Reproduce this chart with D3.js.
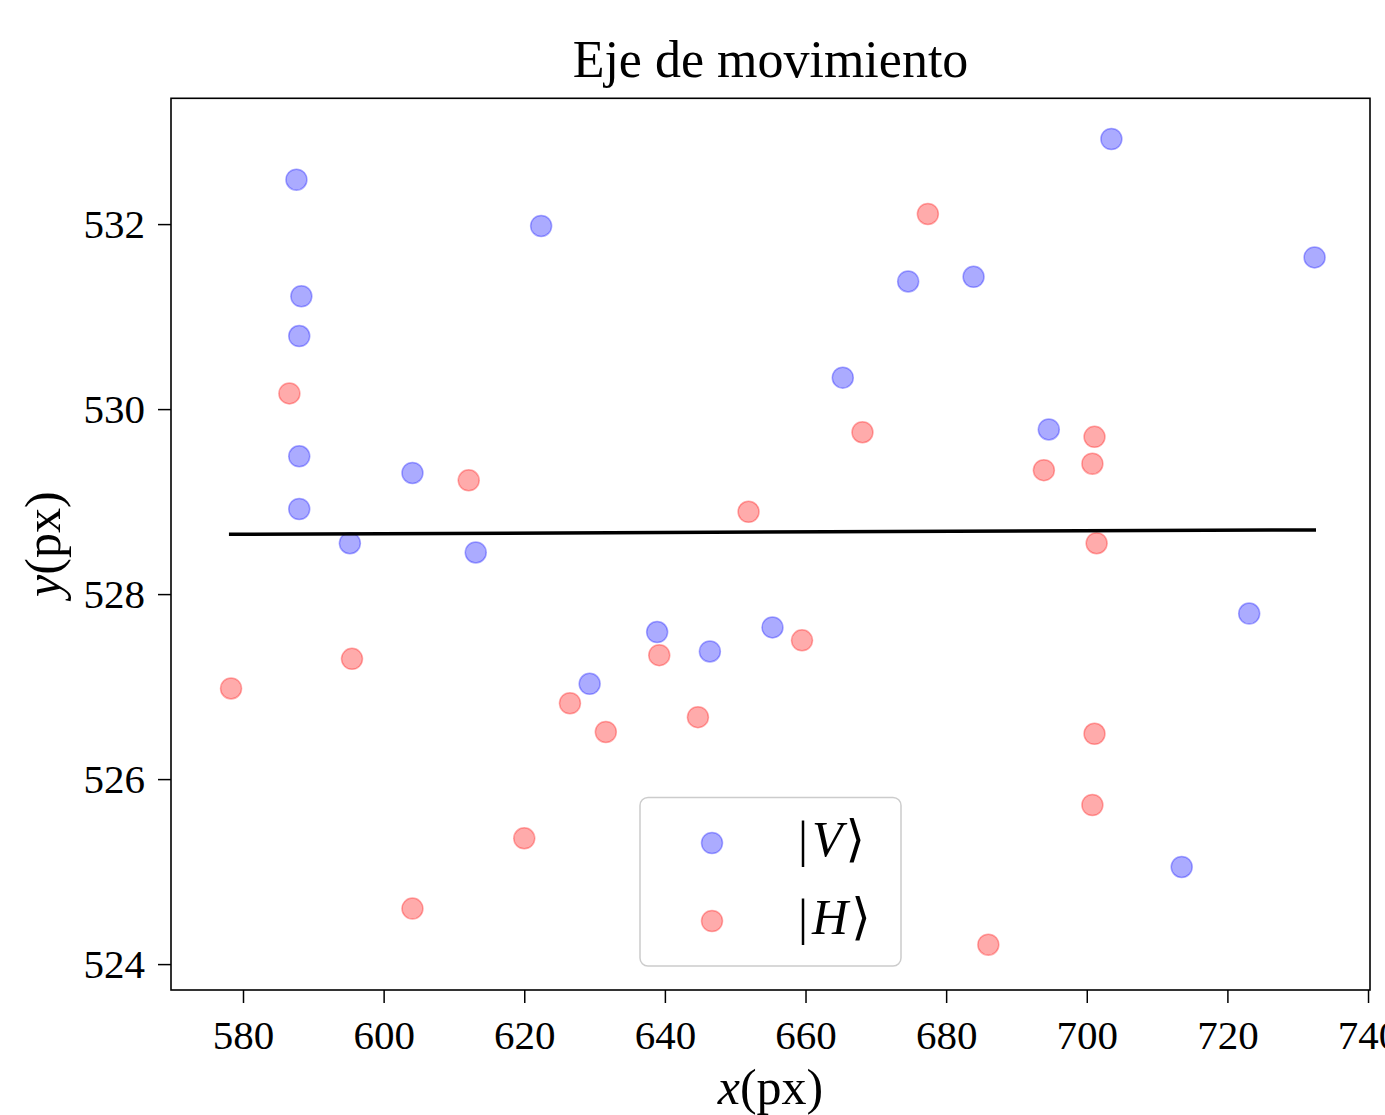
<!DOCTYPE html>
<html>
<head>
<meta charset="utf-8">
<script src="https://cdn.jsdelivr.net/npm/d3@7"></script>
<style>
  html, body { margin: 0; padding: 0; background: #fff; }
  svg text { font-family: "Liberation Serif", "DejaVu Serif", serif; fill: #000; }
</style>
</head>
<body>
<svg id="chart" width="1385" height="1115"></svg>
<script>
// |V> points
var vx = [587.6, 622.4, 588.3, 588.0, 588.0, 604.1, 588.0, 595.2, 613.1, 674.6, 683.9,
          665.3, 638.9, 646.4, 655.3, 629.3, 703.5, 732.4, 694.6, 723.1, 713.5];
var vy = [532.48, 531.98, 531.22, 530.79, 529.49, 529.31, 528.92, 528.55, 528.45, 531.38, 531.43,
          530.34, 527.59, 527.38, 527.64, 527.03, 532.92, 531.64, 529.78, 527.79, 525.05];
// |H> points
var hx = [586.6, 612.1, 595.5, 578.3, 604.1, 620.0, 626.5, 631.6, 644.7, 639.2, 659.5,
          651.9, 668.1, 677.4, 701.1, 693.9, 700.8, 701.4, 701.1, 700.8, 686.0];
var hy = [530.17, 529.23, 527.30, 526.98, 524.60, 525.36, 526.82, 526.51, 526.67, 527.34, 527.50,
          528.89, 529.75, 532.11, 529.70, 529.34, 529.41, 528.55, 526.49, 525.72, 524.21];
// fitted axis line
var lineX = [578.0, 732.6];
var lineY = [528.647, 528.694];

var xTicks = [580, 600, 620, 640, 660, 680, 700, 720, 740];
var yTicks = [524, 526, 528, 530, 532];

var axL = 171, axR = 1370, axT = 98.3, axB = 990;

var svg = d3.select("#chart");

var x = d3.scaleLinear().domain([569.76, 740.28]).range([axL, axR]);
var y = d3.scaleLinear().domain([523.72, 533.36]).range([axB, axT]);

svg.append("rect").attr("width", 1385).attr("height", 1115).attr("fill", "#fff");

// axes
var gx = svg.append("g")
  .attr("transform", "translate(0," + axB + ")")
  .call(d3.axisBottom(x).tickValues(xTicks).tickFormat(d3.format("d")).tickSize(13).tickPadding(17));
var gy = svg.append("g")
  .attr("transform", "translate(" + axL + ",0)")
  .call(d3.axisLeft(y).tickValues(yTicks).tickFormat(d3.format("d")).tickSize(13).tickPadding(13));

[gx, gy].forEach(function(g) {
  g.select(".domain").remove();
  g.selectAll(".tick line").attr("stroke", "#000").attr("stroke-width", 1.5);
  g.selectAll(".tick text").attr("font-size", 41).attr("font-family", null);
});

// points
function dots(xs, ys, col) {
  svg.append("g").selectAll("circle")
    .data(xs.map(function(d, i) { return [d, ys[i]]; }))
    .enter().append("circle")
    .attr("cx", function(d) { return x(d[0]); })
    .attr("cy", function(d) { return y(d[1]); })
    .attr("r", 10.5)
    .attr("fill", col).attr("fill-opacity", 0.33)
    .attr("stroke", col).attr("stroke-opacity", 0.33).attr("stroke-width", 1.5);
}
dots(vx, vy, "#0000ff");
dots(hx, hy, "#ff0000");

svg.append("path")
  .datum(lineX.map(function(d, i) { return [d, lineY[i]]; }))
  .attr("d", d3.line().x(function(d) { return x(d[0]); }).y(function(d) { return y(d[1]); }))
  .attr("fill", "none").attr("stroke", "#000").attr("stroke-width", 3.5);

// frame
svg.append("rect")
  .attr("x", axL).attr("y", axT).attr("width", axR - axL).attr("height", axB - axT)
  .attr("fill", "none").attr("stroke", "#000").attr("stroke-width", 1.6);

// title & labels
svg.append("text").attr("x", (axL + axR) / 2).attr("y", 77)
  .attr("text-anchor", "middle").attr("font-size", 52).text("Eje de movimiento");

var xl = svg.append("text").attr("x", (axL + axR) / 2).attr("y", 1104)
  .attr("text-anchor", "middle").attr("font-size", 50);
xl.append("tspan").attr("font-style", "italic").text("x");
xl.append("tspan").text("(px)");

var yl = svg.append("text").attr("transform", "translate(60," + ((axT + axB) / 2) + ") rotate(-90)")
  .attr("text-anchor", "middle").attr("font-size", 50);
yl.append("tspan").attr("font-style", "italic").text("y");
yl.append("tspan").text("(px)");

// legend
var legend = [{ label: "V", col: "#0000ff" }, { label: "H", col: "#ff0000" }];
var lg = svg.append("g");
lg.append("rect").attr("x", 640).attr("y", 797.5).attr("width", 261).attr("height", 168.5)
  .attr("rx", 8).attr("fill", "#fff").attr("fill-opacity", 0.8)
  .attr("stroke", "#cccccc").attr("stroke-width", 1.5);
legend.forEach(function(d, i) {
  var cy = 843 + i * 78;
  lg.append("circle").attr("cx", 712).attr("cy", cy).attr("r", 10.5)
    .attr("fill", d.col).attr("fill-opacity", 0.33)
    .attr("stroke", d.col).attr("stroke-opacity", 0.33).attr("stroke-width", 1.5);
  var t = lg.append("text").attr("x", 798).attr("y", cy + 13).attr("font-size", 50);
  t.append("tspan").text("|");
  t.append("tspan").attr("dx", 4).attr("font-style", "italic").text(d.label);
  t.append("tspan").attr("dx", 3).text("\u27E9");
});
</script>
</body>
</html>
